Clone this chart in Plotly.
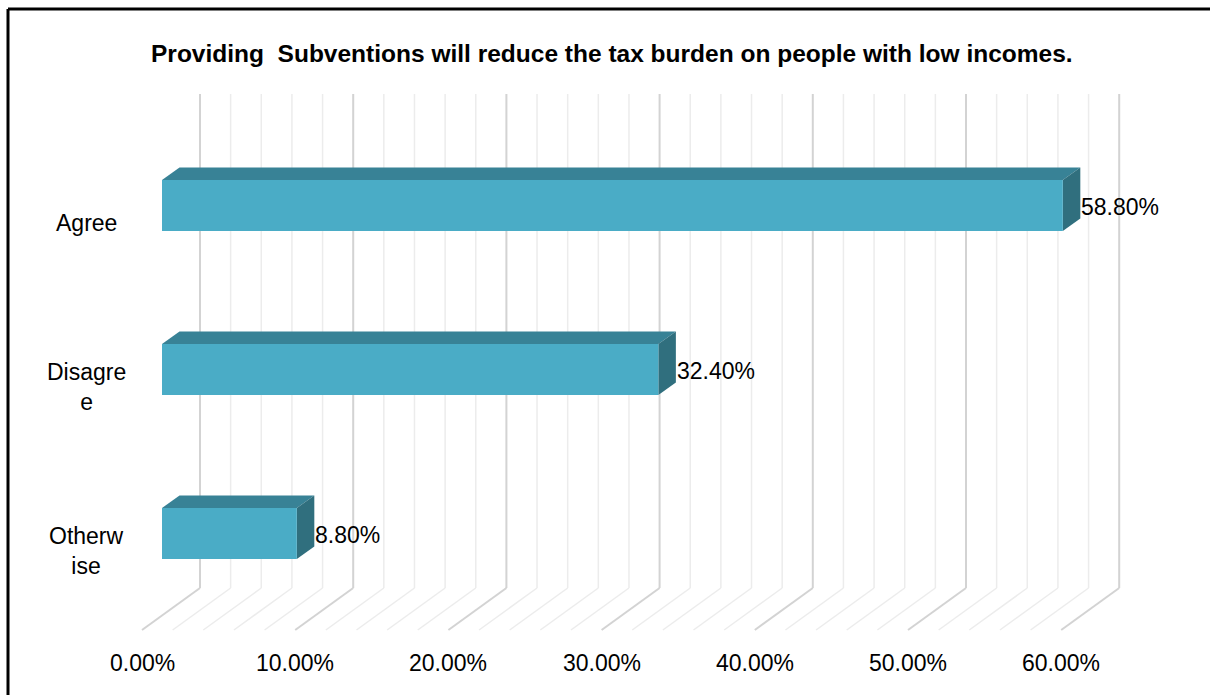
import plotly.graph_objects as go

# ---- data ----
categories = ["Agree", "Disagree", "Otherwise"]
category_labels = ["Agree", "Disagre<br>e", "Otherw<br>ise"]
values = [58.8, 32.4, 8.8]
value_labels = ["58.80%", "32.40%", "8.80%"]
tick_values = [0, 10, 20, 30, 40, 50, 60]
tick_labels = ["0.00%", "10.00%", "20.00%", "30.00%", "40.00%", "50.00%", "60.00%"]
minor_step = 2
title = "Providing\u00a0 Subventions will reduce the tax burden on people with low incomes."

# ---- layout geometry (pixel mapping) ----
W, H = 1210, 695
PX_PER_UNIT_X = 15.32      # px per 1 %
X0_PX = 162                # pixel of 0 % on bar front plane
PX_PER_CAT = 164           # px between categories
Y0_PX = 533.5              # pixel of last category centre

def px_x(p):
    return (p - X0_PX) / PX_PER_UNIT_X

def px_y(p):
    return (Y0_PX - p) / PX_PER_CAT

half_h = 25.5 / PX_PER_CAT
ddx = 17.5 / PX_PER_UNIT_X
ddy = 12.5 / PX_PER_CAT

back_dx = 38 / PX_PER_UNIT_X
front_dx = -20 / PX_PER_UNIT_X
wall_top = px_y(94)
wall_bot = px_y(588)
floor_front = px_y(630)

fig = go.Figure()

# gridlines (back wall + floor)
shapes = []
v = 0
while v <= tick_values[-1]:
    major = (v % 10 == 0)
    col = "#d3d3d3" if major else "#ececec"
    wdt = 2 if major else 1.5
    xb = v + back_dx
    xf = v + front_dx
    shapes.append(dict(type="line", x0=xb, x1=xb, y0=wall_bot, y1=wall_top,
                       line=dict(color=col, width=wdt), layer="below"))
    shapes.append(dict(type="line", x0=xb, x1=xf, y0=wall_bot, y1=floor_front,
                       line=dict(color=col, width=wdt), layer="below"))
    v += minor_step

n = len(categories)
front_col = "#4aacc6"
top_col = "#388296"
side_col = "#306f7e"

for i, (cat, val) in enumerate(zip(categories, values)):
    yc = n - 1 - i
    yb, yt = yc - half_h, yc + half_h
    # top face
    fig.add_trace(go.Scatter(
        x=[0, val, val + ddx, ddx, 0], y=[yt, yt, yt + ddy, yt + ddy, yt],
        fill="toself", fillcolor=top_col, mode="lines", line=dict(width=0),
        hoverinfo="skip", showlegend=False))
    # side face
    fig.add_trace(go.Scatter(
        x=[val, val + ddx, val + ddx, val, val], y=[yb, yb + ddy, yt + ddy, yt, yb],
        fill="toself", fillcolor=side_col, mode="lines", line=dict(width=0),
        hoverinfo="skip", showlegend=False))
    # front face
    fig.add_trace(go.Scatter(
        x=[0, val, val, 0, 0], y=[yb, yb, yt, yt, yb],
        fill="toself", fillcolor=front_col, mode="lines", line=dict(width=0),
        name=cat, hoverinfo="name", showlegend=False))

FONT = dict(family="Liberation Sans", size=23, color="#000")
annotations = []
for i, (lab, val, vl) in enumerate(zip(category_labels, values, value_labels)):
    yc = n - 1 - i
    annotations.append(dict(x=px_x(86), y=yc - 17 / PX_PER_CAT, text=lab,
                            showarrow=False, xanchor="center", yanchor="middle",
                            font=FONT, align="center"))
    annotations.append(dict(x=val + ddx, y=yc - 1.5 / PX_PER_CAT, text=vl,
                            showarrow=False, xanchor="left", yanchor="middle", xshift=-1,
                            font=FONT))

for tv, tl in zip(tick_values, tick_labels):
    annotations.append(dict(x=tv + front_dx, y=px_y(663), text=tl, showarrow=False,
                            xanchor="center", yanchor="middle", font=FONT))

annotations.append(dict(xref="paper", yref="paper", x=612 / W, y=1 - 53 / H, text="<b>" + title + "</b>",
                        showarrow=False, xanchor="center", yanchor="middle",
                        font=dict(family="Liberation Sans", size=24.5, color="#000")))

# frame
shapes.append(dict(type="line", xref="paper", yref="paper", x0=8 / W, x1=1.05, y0=1 - 9 / H, y1=1 - 9 / H,
                   line=dict(color="#000", width=3)))
shapes.append(dict(type="line", xref="paper", yref="paper", x0=8 / W, x1=8 / W, y0=-0.05, y1=1 - 9 / H,
                   line=dict(color="#000", width=3)))

fig.update_layout(
    width=W, height=H,
    margin=dict(l=0, r=0, t=0, b=0),
    paper_bgcolor="white", plot_bgcolor="white",
    xaxis=dict(range=[px_x(0), px_x(W)], visible=False, fixedrange=True),
    yaxis=dict(range=[px_y(H), px_y(0)], visible=False, fixedrange=True),
    shapes=shapes, annotations=annotations,
)

fig.write_html("out.html", config={"displayModeBar": False},
               post_script="document.body.style.margin='0';")
